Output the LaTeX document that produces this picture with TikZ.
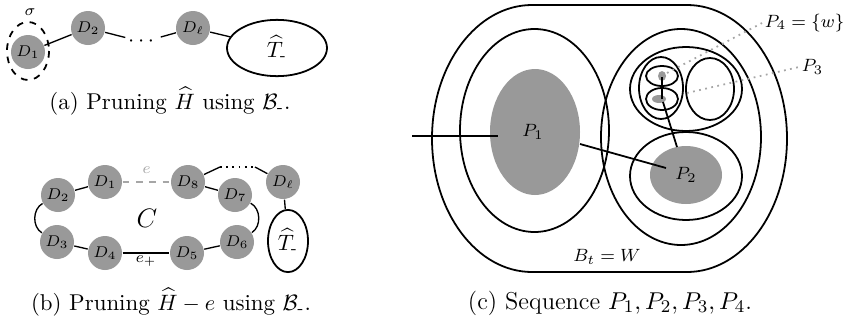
\documentclass[tikz,border=0pt]{standalone}
\usepackage{amsmath}
\usepackage{amssymb}
\usetikzlibrary{shapes.geometric}
\tikzstyle{blob}=[circle, fill=black!40, minimum size=15.3pt, inner sep=0pt, font=\scriptsize]
\tikzstyle{bag}=[black, thick]
\tikzstyle{part}=[fill=black!40]
\tikzstyle{hint}=[black!35, dotted, thick]
\tikzstyle{lbl}=[font=\footnotesize, inner sep=1pt]
\tikzstyle{capt}=[font=\fontsize{10.3}{12}\selectfont]

\begin{document}
\begin{tikzpicture}[x=0.45pt, y=-0.45pt, semithick]
\useasboundingbox (0,0) rectangle (844,321);

% (a)
\draw[dashed, thick] (28,51) ellipse [x radius=21, y radius=29];
\node[font=\scriptsize] (sig) at (30,12) {$\sigma$};
\node[blob] (a1) at (28,52) {$D_1$};
\node[blob] (a2) at (88,28) {$D_2$};
\node[inner sep=1pt] (adots) at (143,42) {$\cdots$};
\node[blob] (al) at (193,28) {$D_\ell$};
\node[bag, draw, ellipse, minimum width=45pt, minimum height=21pt] (at) at (277,48) {$\widehat{T}_{\text{-}}$};
\draw (a1) -- (a2) -- (adots) -- (al) -- (at);
\node[capt] (capa) at (170,101) {(a) Pruning $\widehat{H}$ using $\mathcal{B}_{\text{-}}$.};

% (b)
\node[blob] (b1) at (105,182) {$D_1$};
\node[blob] (b2) at (58,195) {$D_2$};
\node[blob] (b3) at (57,242) {$D_3$};
\node[blob] (b4) at (105,253) {$D_4$};
\node[blob] (b5) at (187,253) {$D_5$};
\node[blob] (b6) at (237,242) {$D_6$};
\node[blob] (b7) at (235,195) {$D_7$};
\node[blob] (b8) at (188,182) {$D_8$};
\node[blob] (bl) at (283,182) {$D_\ell$};
\node[bag, draw, ellipse, minimum width=18pt, minimum height=28pt, inner sep=0pt] (bt) at (288,241) {$\widehat{T}_{\text{-}}$};
\node[font=\large] (c) at (147,218) {$C$};
\coordinate (bd1) at (220,167);
\coordinate (bd2) at (255,167);
\draw[dashed, black!35] (b1) -- node[above, font=\scriptsize] {$e$} (b8);
\draw (b1) -- (b2);
\draw (b2) to[bend right=60] (b3);
\draw (b3) -- (b4);
\draw (b4) -- node[below, font=\scriptsize, inner sep=1pt] {$e_{+}$} (b5);
\draw (b5) -- (b6);
\draw (b7) to[bend left=60] (b6);
\draw (b8) -- (b7);
\draw (b8) -- (bd1);
\draw[dotted, thick] (bd1) -- (bd2);
\draw (bd2) -- (bl);
\draw (bl) -- (bt);
\node[capt] (capb) at (171,302) {(b) Pruning $\widehat{H}-e$ using $\mathcal{B}_{\text{-}}$.};

% (c)
\draw[bag] (532,5) -- (687,5)
  arc[start angle=-90, end angle=0, x radius=100, y radius=133.5]
  arc[start angle=0, end angle=90, x radius=100, y radius=133.5]
  -- (532,272)
  arc[start angle=90, end angle=180, x radius=100, y radius=133.5]
  arc[start angle=180, end angle=270, x radius=100, y radius=133.5] -- cycle;
\draw[bag] (534.5,130.5) ellipse [x radius=74.5, y radius=101.5];
\fill[part] (535,132) ellipse [x radius=45, y radius=63];
\draw[bag] (681,137) ellipse [x radius=80, y radius=108];
\draw[bag] (686,89) ellipse [x radius=56, y radius=42];
\draw[bag] (686,176) ellipse [x radius=56, y radius=44];
\fill[part] (686,175) ellipse [x radius=36, y radius=29];
\draw[bag] (661,88) ellipse [x radius=22, y radius=31];
\draw[bag] (710,89) ellipse [x radius=24, y radius=31];
\draw[bag] (662,76) ellipse [x radius=16, y radius=10];
\draw[bag] (662,99) ellipse [x radius=16, y radius=11];
\fill[part] (662,76) ellipse [x radius=4, y radius=5];
\fill[part] (659,99) ellipse [x radius=7, y radius=4];

\node[lbl] (p1) at (533,132) {$P_1$};
\node[lbl] (p2) at (686,175) {$P_2$};
\node[lbl, anchor=west] (p3) at (799,67) {$P_3$};
\node[lbl, anchor=west] (p4) at (762,23) {$P_4=\{w\}$};
\node[lbl] (bw) at (607,257) {$B_t=W$};

\coordinate (x0) at (412,136);
\coordinate (p1w) at (498,136);
\coordinate (p1e) at (580,144);
\coordinate (p2w) at (666,168);
\coordinate (p2n) at (677,147);
\coordinate (w4) at (662,77);
\coordinate (w3) at (662,99);
\coordinate (w3s) at (663,102);
\coordinate (h4) at (667,73);
\coordinate (h3) at (687,93);
\draw[thick] (x0) -- (p1w);
\draw[thick] (p1e) -- (p2w);
\draw[thick] (w4) -- (w3);
\draw[thick] (w3s) -- (p2n);
\draw[hint] (h4) -- (p4.west);
\draw[hint] (h3) -- (p3.west);
\node[font=\fontsize{11}{13}\selectfont] (capc) at (610,303) {(c) Sequence $P_1,P_2,P_3,P_4$.};
\end{tikzpicture}
\end{document}
